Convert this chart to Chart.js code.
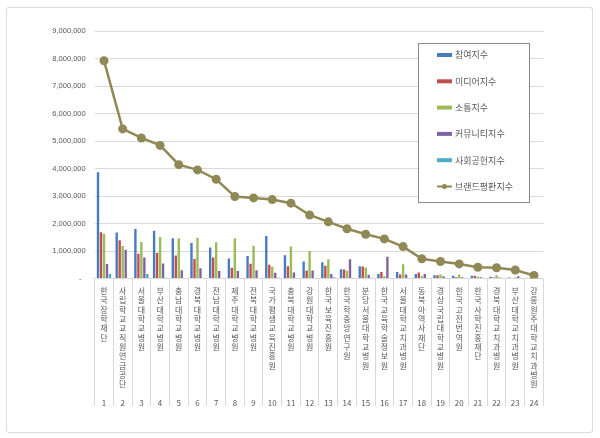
<!DOCTYPE html>
<html>
<head>
<meta charset="utf-8">
<script src="https://cdn.jsdelivr.net/npm/chart.js@4"></script>
<style>
	body { margin: 0; background: #fff; }
	#wrap { position: relative; width: 600px; height: 438px; }
	#frame { position: absolute; left: 6px; top: 7px; width: 585px; height: 424px; border: 1px solid #dcdcdc; border-radius: 3px; }
	#chart { position: absolute; left: 0; top: 0; }
</style>
</head>
<body>
<div id="wrap">
	<div id="frame"></div>
	<canvas id="chart" width="600" height="438"></canvas>
</div>
<script>
const names = [
	"한국장학재단", "사립학교교직원연금공단", "서울대학교병원", "부산대학교병원", "충남대학교병원", "경북대학교병원",
	"전남대학교병원", "제주대학교병원", "전북대학교병원", "국가평생교육진흥원", "충북대학교병원", "강원대학교병원",
	"한국보육진흥원", "한국학중앙연구원", "분당서울대학교병원", "한국교육학술정보원", "서울대학교치과병원", "동북아역사재단",
	"경상국립대학교병원", "한국고전번역원", "한국사학진흥재단", "경북대학교치과병원", "부산대학교치과병원", "강릉원주대학교치과병원",
]
const ranks = ["1", "2", "3", "4", "5", "6", "7", "8", "9", "10", "11", "12",
	"13", "14", "15", "16", "17", "18", "19", "20", "21", "22", "23", "24"]

const seriesNames = ["참여지수", "미디어지수", "소통지수", "커뮤니티지수", "사회공헌지수", "브랜드평판지수"]
const seriesColors = ["#4a7bbf", "#c0504d", "#9bbb59", "#8064a2", "#4bacc6", "#918955"]

const participation = [3860000, 1670000, 1800000, 1740000, 1460000, 1290000, 1130000, 730000, 820000, 1550000, 850000, 620000,
	590000, 340000, 450000, 160000, 240000, 160000, 120000, 100000, 100000, 60000, 40000, 20000]
const media = [1680000, 1390000, 900000, 930000, 840000, 710000, 760000, 390000, 540000, 500000, 450000, 290000,
	460000, 330000, 440000, 240000, 150000, 220000, 120000, 50000, 100000, 40000, 20000, 10000]
const communication = [1630000, 1180000, 1330000, 1510000, 1460000, 1480000, 1320000, 1460000, 1190000, 430000, 1160000, 1000000,
	700000, 280000, 400000, 80000, 520000, 90000, 150000, 150000, 60000, 120000, 40000, 30000]
const community = [530000, 1050000, 760000, 550000, 300000, 370000, 270000, 270000, 300000, 210000, 220000, 290000,
	160000, 700000, 140000, 790000, 150000, 160000, 80000, 50000, 50000, 40000, 80000, 20000]
const social = [160000, 20000, 160000, 30000, 20000, 20000, 20000, 10000, 10000, 30000, 10000, 10000,
	50000, 10000, 30000, 10000, 10000, 20000, 10000, 10000, 10000, 10000, 10000, 10000]
const brand = [7920000, 5440000, 5110000, 4840000, 4140000, 3950000, 3610000, 2980000, 2930000, 2870000, 2740000, 2310000,
	2060000, 1810000, 1610000, 1440000, 1160000, 720000, 620000, 530000, 410000, 390000, 310000, 110000]

const yTicks = [0, 1000000, 2000000, 3000000, 4000000, 5000000, 6000000, 7000000, 8000000, 9000000]

// each name is stacked one character per line, numbers share one row underneath
const labels = names.map((n, i) => {
	const chars = n.split("")
	while (chars.length < 12) chars.push("")
	chars.push(ranks[i])
	return chars
})

const textColor = "#595959"
const gridColor = "#d9d9d9"

const boxLegend = {
	id: "boxLegend",
	afterDraw(chart, args, opts) {
		const ctx = chart.ctx
		const ds = chart.data.datasets
		ctx.save()
		ctx.fillStyle = "#fff"
		ctx.fillRect(opts.x, opts.y, opts.w, opts.h)
		ctx.strokeStyle = "#8c8c8c"
		ctx.lineWidth = 1
		ctx.strokeRect(opts.x + 0.5, opts.y + 0.5, opts.w, opts.h)
		ctx.font = opts.font
		ctx.textBaseline = "middle"
		for (let i = 0; i < ds.length; i++) {
			const cy = opts.y + opts.first + i * opts.step
			const sx = opts.x + opts.swatchLeft
			ctx.fillStyle = ds[i].backgroundColor
			if (ds[i].type == "line") {
				ctx.strokeStyle = ds[i].borderColor
				ctx.lineWidth = 2
				ctx.beginPath()
				ctx.moveTo(sx, cy)
				ctx.lineTo(sx + opts.swatchWidth, cy)
				ctx.stroke()
				ctx.beginPath()
				ctx.arc(sx + opts.swatchWidth / 2, cy, 2.5, 0, Math.PI * 2)
				ctx.fill()
			} else {
				ctx.fillRect(sx, cy - 2, opts.swatchWidth, 4)
			}
			ctx.fillStyle = textColor
			ctx.fillText(ds[i].label, sx + opts.swatchWidth + 3, cy)
		}
		ctx.restore()
	},
}

const barSet = (i, data) => ({
	type: "bar",
	label: seriesNames[i],
	data: data,
	backgroundColor: seriesColors[i],
	borderWidth: 0,
	categoryPercentage: 0.8,
	barPercentage: 0.8,
})

window.onload = () => {
	new Chart(document.getElementById("chart"), {
		data: {
			labels: labels,
			datasets: [
				barSet(0, participation),
				barSet(1, media),
				barSet(2, communication),
				barSet(3, community),
				barSet(4, social),
				{
					type: "line",
					label: seriesNames[5],
					data: brand,
					borderColor: seriesColors[5],
					backgroundColor: seriesColors[5],
					borderWidth: 2.5,
					pointRadius: 4.5,
					pointBorderWidth: 0,
					tension: 0,
					order: -1,
				},
			],
		},
		options: {
			responsive: false,
			animation: false,
			layout: { padding: { left: 0, right: 56.7, top: 31, bottom: 0 } },
			plugins: {
				legend: { display: false },
				tooltip: { enabled: false },
				boxLegend: {
					x: 418, y: 43, w: 111, h: 159,
					first: 12, step: 26.3,
					swatchLeft: 19, swatchWidth: 15,
					font: "9px 'Noto Sans CJK KR'",
				},
			},
			scales: {
				x: {
					afterFit: s => { s.height = 159.5 },
					grid: {
						offset: true,
						drawOnChartArea: false,
						drawTicks: true,
						tickLength: 127.5,
						color: gridColor,
					},
					border: { display: true, color: gridColor },
					ticks: {
						autoSkip: false,
						maxRotation: 0,
						minRotation: 0,
						padding: -119.5,
						color: textColor,
						font: { family: "'Noto Sans CJK KR'", size: 8, lineHeight: 1.1625 },
					},
				},
				y: {
					min: 0,
					max: 9000000,
					afterFit: s => { s.width = 94.65 },
					afterBuildTicks: s => { s.ticks = yTicks.map(v => ({ value: v })) },
					grid: { color: gridColor, drawTicks: false },
					border: { display: false },
					ticks: {
						padding: 9,
						color: textColor,
						font: { family: "'Liberation Sans'", size: 7.5 },
						callback: v => v == 0 ? "-  " : v.toLocaleString("en-US"),
					},
				},
			},
		},
		plugins: [boxLegend],
	})
}
</script>
</body>
</html>
